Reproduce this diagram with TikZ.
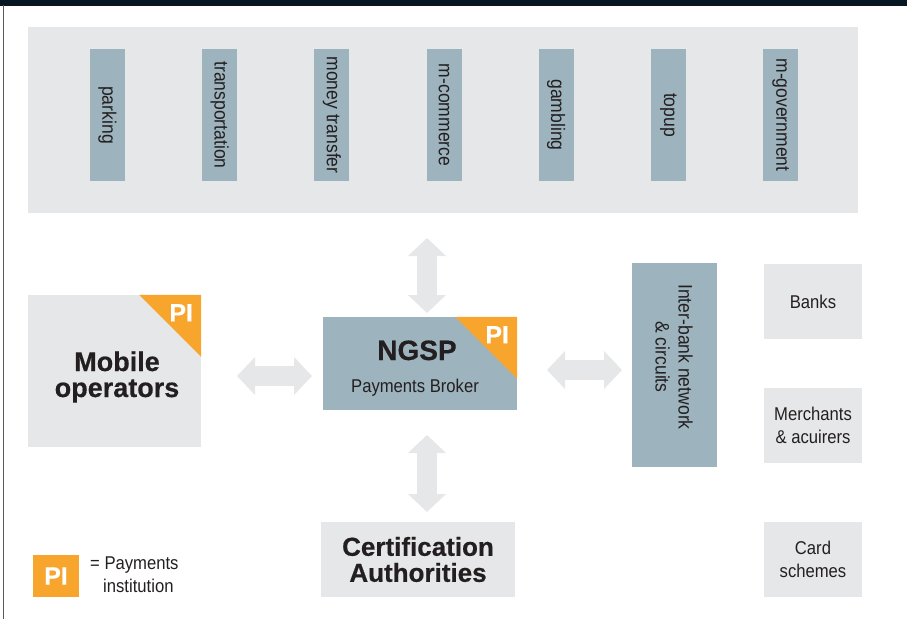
\documentclass[tikz,border=0pt]{standalone}
\usepackage{fontspec}
\setmainfont{Liberation Sans}[BoldFeatures={FakeBold=0.5}]
\newfontfamily\narrowfont{Liberation Sans}[FakeStretch=0.9]
\usetikzlibrary{arrows.meta}

\definecolor{paleGrey}{HTML}{E6E7E8}
\definecolor{slateBlue}{HTML}{9DB3BD}
\definecolor{piOrange}{HTML}{F7A52C}
\definecolor{inkDark}{HTML}{231F20}
\definecolor{navyBar}{HTML}{071722}

\tikzset{
  greybox/.style={fill=paleGrey, inner sep=0pt, text=inkDark, align=center},
  bluebox/.style={greybox, fill=slateBlue},
  plain/.style={font=\narrowfont\fontsize{18.5}{23}\selectfont},
  striptext/.style={font=\narrowfont\fontsize{19.5}{23}\selectfont},
  heading/.style={text=inkDark, inner sep=0pt, anchor=base, font=\bfseries\fontsize{28}{25}\selectfont},
  pitag/.style={text=white, inner sep=0pt, font=\bfseries\fontsize{25}{25}\selectfont},
  fatarrow/.style={draw=paleGrey, line width=20pt,
    {Triangle[length=18pt,width=37pt]}-{Triangle[length=18pt,width=37pt]}},
}

% orange "PI" corner on a box
\newcommand\picorner[1]{%
  \fill[piOrange] ([xshift=-62pt]#1.north east) -- (#1.north east)
    -- ([yshift=-62pt]#1.north east) -- cycle;
  \node[pitag] (#1pi) at ([xshift=-20pt,yshift=-18pt]#1.north east) {PI};}

\begin{document}
\begin{tikzpicture}[x=1pt, y=-1pt]
  \useasboundingbox (0,0) rectangle (907,619);
  \fill[navyBar] (0,0) rectangle (907,5.5);
  \draw[black!65, line width=0.9pt] (3,5) -- (3,619);

  % services
  \node[greybox, minimum width=830pt, minimum height=186pt] (services) at (443,120) {};
  \foreach \lbl [count=\i from 0] in {parking, transportation, money transfer,
      m-commerce, gambling, topup, m-government}
    \node[bluebox, striptext, rotate=-90, minimum width=132pt, minimum height=35pt]
      (app\i) at (107.5+112.17*\i, 115) {\lbl};

  % middle row
  \node[greybox, minimum width=173pt, minimum height=152pt] (mob) at (114.5,371) {};
  \picorner{mob}
  \node[heading, font=\bfseries\fontsize{27}{25}\selectfont] (mobtop) at (117,371) {Mobile};
  \node[heading, font=\bfseries\fontsize{27}{25}\selectfont] (mobbottom) at (117,397) {operators};

  \node[bluebox, minimum width=194pt, minimum height=93pt] (ngsp) at (420,363.5) {};
  \picorner{ngsp}
  \node[heading] (ngsptitle) at (417,360) {NGSP};
  \node[plain, text=inkDark, anchor=base] (ngspsub) at (415,392) {Payments Broker};

  \node[bluebox, minimum width=85pt, minimum height=204pt] (interbank) at (674.5,365) {};
  \node[striptext, text=inkDark, rotate=-90, align=center] (interbanktxt) at (674,357)
    {Inter-bank network\\\& circuits};

  % right column
  \node[greybox, plain, minimum width=98pt, minimum height=75pt] (banks) at (813,301.5) {Banks};
  \node[greybox, plain, minimum width=98pt, minimum height=75pt] (merchants) at (813,425.5)
    {Merchants\\\& acuirers};
  \node[greybox, plain, minimum width=98pt, minimum height=75pt] (cards) at (813,559.5)
    {Card\\schemes};

  % bottom
  \node[greybox, font=\bfseries\fontsize{26}{26}\selectfont, minimum width=194pt,
    minimum height=75pt] (certs) at (418,559.5) {Certification\\Authorities};

  % legend
  \node[pitag, fill=piOrange, minimum width=46pt, minimum height=42pt] (legendpi) at (56,576) {PI};
  \node[plain, text=inkDark, anchor=base west, inner sep=0pt] (legendeq) at (90,569) {= Payments};
  \node[plain, text=inkDark, anchor=base west, inner sep=0pt] (legendinst) at (103,592) {institution};

  % flows
  \coordinate (upA) at (427,238);   \coordinate (upB) at (427,313);
  \coordinate (downA) at (427,435); \coordinate (downB) at (427,512);
  \coordinate (leftA) at (237,376); \coordinate (leftB) at (312,376);
  \coordinate (rightA) at (547,370); \coordinate (rightB) at (622,370);
  \draw[fatarrow] (upA) -- (upB);
  \draw[fatarrow] (downA) -- (downB);
  \draw[fatarrow] (leftA) -- (leftB);
  \draw[fatarrow] (rightA) -- (rightB);
\end{tikzpicture}
\end{document}
